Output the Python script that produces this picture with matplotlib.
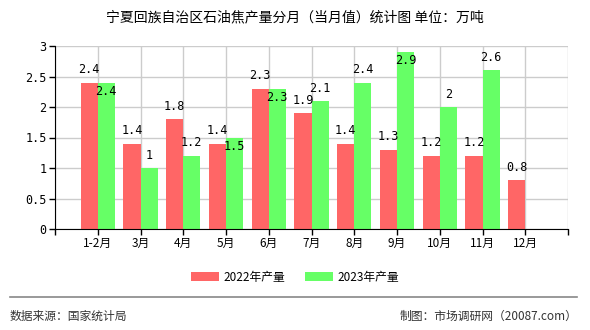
import matplotlib.pyplot as plt
import numpy as np

plt.rcParams['font.family'] = ['Noto Sans CJK SC', 'DejaVu Sans']

months = ["1-2月", "3月", "4月", "5月", "6月", "7月", "8月", "9月", "10月", "11月", "12月"]
prod_2022 = [2.4, 1.4, 1.8, 1.4, 2.3, 1.9, 1.4, 1.3, 1.2, 1.2, 0.8]
prod_2023 = [2.4, 1.0, 1.2, 1.5, 2.3, 2.1, 2.4, 2.9, 2.0, 2.6]
y_ticks = [0, 0.5, 1, 1.5, 2, 2.5, 3]
y_labels = ["0", "0.5", "1", "1.5", "2", "2.5", "3"]

RED = "#ff6666"
GREEN = "#66ff66"

fig = plt.figure(figsize=(5.9, 3.3), dpi=100)
ax = fig.add_axes([55 / 590, 1 - 229 / 330, 513 / 590, 183 / 330])

x = np.arange(1, len(months) + 1)
w = 0.4
ax.bar(x[:len(prod_2022)] - w / 2, prod_2022, w, color=RED, zorder=3, label="2022年产量")
ax.bar(x[:len(prod_2023)] + w / 2, prod_2023, w, color=GREEN, zorder=3, label="2023年产量")

mono = dict(family="DejaVu Sans Mono", fontsize=8.5, zorder=4)
for xi, v in zip(x, prod_2022):
    ax.text(xi - w / 2, v + 0.21, f"{v:g}", ha="center", va="center", **mono)
for xi, v, r in zip(x, prod_2023, prod_2022):
    # labels close to the neighbour's label or the top go inside the bar
    inside = abs(v - r) < 0.15 or v + 0.2 > 3
    yy = v - 0.14 if inside else v + 0.21
    ax.text(xi + w / 2, yy, f"{v:g}", ha="center", va="center", **mono)

ax.set_xlim(0, len(months) + 1)
ax.set_ylim(0, 3)
ax.set_xticks(np.arange(0, len(months) + 2))
ax.set_xticklabels([""] + months + [""], fontsize=8.5)
ax.set_yticks(y_ticks)
ax.set_yticklabels(y_labels, family="DejaVu Sans Mono", fontsize=8.5)
ax.tick_params(length=4, width=1, color="black", pad=2)
ax.grid(True, color="#cccccc", linewidth=1, zorder=0)
for s in ("top", "right"):
    ax.spines[s].set_visible(False)
for s in ("left", "bottom"):
    ax.spines[s].set_color("black")
    ax.spines[s].set_zorder(5)

fig.text(0.5, 1 - 17 / 330, "宁夏回族自治区石油焦产量分月（当月值）统计图 单位：万吨",
         ha="center", va="center", fontsize=10, fontweight="medium")

fig.legend(loc="center", bbox_to_anchor=(0.5, 1 - 277 / 330), ncol=2, frameon=False,
           fontsize=8.5, handlelength=2.4, handleheight=0.9, columnspacing=1.6,
           handletextpad=0.4)

fig.add_artist(plt.Line2D([10 / 590, 577 / 590], [1 - 297 / 330] * 2,
                          color="#888888", linewidth=1.2))
fig.text(10 / 590, 1 - 316 / 330, "数据来源：国家统计局", ha="left", va="center",
         fontsize=8.5, color="#333333")
fig.text(577 / 590, 1 - 316 / 330, "制图：市场调研网（20087.com）", ha="right", va="center",
         fontsize=8.5, color="#333333")

fig.savefig("out.png", dpi=100)
